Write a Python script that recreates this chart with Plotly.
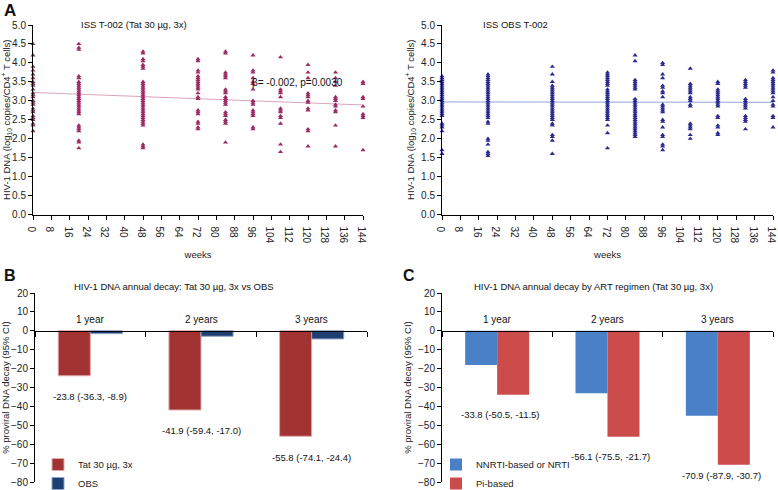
import plotly.graph_objects as go

FONT = "Liberation Sans, Arial, sans-serif"

# ---------------- Panel A data ----------------
weeks = [0, 20, 48, 72, 84, 96, 108, 120, 132, 144]

tat_values = [
    [4.5, 4.2, 3.9, 3.8, 3.7, 3.6, 3.5, 3.45, 3.4, 3.3, 3.2, 3.15, 3.1, 3.0, 2.95, 2.9, 2.8, 2.75, 2.7, 2.6, 2.55, 2.5, 2.4, 2.35, 2.2],
    [4.5, 4.4, 4.35, 3.65, 3.6, 3.5, 3.45, 3.4, 3.35, 3.3, 3.25, 3.2, 3.15, 3.1, 3.05, 3.0, 2.95, 2.9, 2.85, 2.8, 2.75, 2.7, 2.65, 2.35, 2.3, 2.25, 2.2, 1.95, 1.9, 1.75],
    [4.3, 4.25, 4.1, 4.05, 3.95, 3.9, 3.85, 3.5, 3.45, 3.4, 3.35, 3.3, 3.25, 3.2, 3.15, 3.1, 3.05, 3.0, 2.95, 2.9, 2.85, 2.8, 2.75, 2.7, 2.65, 2.6, 2.55, 2.5, 2.45, 2.4, 2.35, 1.85, 1.8, 1.75],
    [4.1, 4.05, 3.8, 3.75, 3.65, 3.6, 3.55, 3.5, 3.45, 3.4, 3.35, 3.3, 3.2, 3.1, 3.05, 2.75, 2.7, 2.65, 2.45, 2.4, 2.3, 2.25],
    [4.3, 4.25, 3.75, 3.7, 3.65, 3.6, 3.3, 3.25, 3.2, 3.1, 3.05, 3.0, 2.95, 2.9, 2.7, 2.65, 2.6, 2.5, 2.45, 2.4, 1.9],
    [4.2, 3.8, 3.75, 3.6, 3.5, 3.45, 3.3, 3.0, 2.95, 2.9, 2.75, 2.7, 2.65, 2.6, 2.3, 2.25],
    [4.15, 3.3, 3.25, 3.2, 3.1, 2.8, 2.75, 2.7, 2.6, 2.55, 2.4, 1.85, 1.65],
    [3.95, 3.75, 3.6, 3.2, 3.15, 3.1, 3.0, 2.95, 2.8, 2.75, 2.25, 2.2, 1.8],
    [3.75, 3.6, 3.5, 3.4, 3.1, 3.05, 3.0, 2.9, 2.85, 2.75, 2.7, 2.35, 1.8],
    [3.5, 3.45, 3.1, 3.05, 2.85, 2.65, 2.6, 2.55, 1.7],
]

obs_values = [
    [3.65, 3.6, 3.55, 3.5, 3.45, 3.4, 3.35, 3.3, 3.25, 3.2, 3.15, 3.1, 3.05, 3.0, 2.95, 2.9, 2.85, 2.8, 2.75, 2.7, 2.65, 2.6, 2.4, 2.35, 2.3, 2.2, 1.7, 1.6],
    [3.7, 3.65, 3.6, 3.55, 3.5, 3.45, 3.4, 3.35, 3.3, 3.25, 3.2, 3.15, 3.1, 3.05, 3.0, 2.95, 2.9, 2.85, 2.8, 2.75, 2.7, 2.65, 2.6, 2.55, 2.45, 2.4, 2.0, 1.95, 1.85, 1.65, 1.6, 1.55],
    [3.9, 3.7, 3.5, 3.4, 3.35, 3.3, 3.25, 3.2, 3.15, 3.1, 3.05, 3.0, 2.95, 2.9, 2.85, 2.8, 2.75, 2.7, 2.65, 2.6, 2.55, 2.5, 2.4, 2.35, 2.1, 2.05, 1.95, 1.6],
    [3.75, 3.7, 3.65, 3.6, 3.55, 3.5, 3.45, 3.4, 3.3, 3.25, 3.2, 3.15, 3.1, 3.05, 3.0, 2.95, 2.9, 2.85, 2.8, 2.75, 2.7, 2.65, 2.6, 2.55, 2.5, 2.35, 2.15, 1.75],
    [4.2, 4.05, 3.55, 3.5, 3.45, 3.4, 3.35, 3.3, 3.05, 3.0, 2.95, 2.9, 2.85, 2.8, 2.75, 2.7, 2.65, 2.6, 2.55, 2.5, 2.45, 2.4, 2.35, 2.3, 2.25, 2.2, 2.15, 2.1, 2.05],
    [4.0, 3.95, 3.7, 3.6, 3.4, 3.35, 3.25, 3.2, 3.1, 2.9, 2.85, 2.8, 2.75, 2.7, 2.5, 2.45, 2.3, 2.1, 2.05, 1.85, 1.8, 1.7],
    [3.85, 3.45, 3.4, 3.35, 3.3, 3.25, 3.2, 3.1, 3.05, 3.0, 2.9, 2.85, 2.4, 2.35, 2.3, 2.25, 2.1, 2.0],
    [3.5, 3.45, 3.3, 3.25, 3.2, 3.15, 3.1, 3.05, 3.0, 2.95, 2.9, 2.85, 2.6, 2.55, 2.35, 2.3, 2.15, 2.1],
    [3.55, 3.5, 3.45, 3.4, 3.35, 3.05, 3.0, 2.95, 2.9, 2.85, 2.8, 2.6, 2.55, 2.5, 2.45, 2.25],
    [3.8, 3.75, 3.6, 3.55, 3.5, 3.45, 3.4, 3.35, 3.3, 3.25, 3.2, 3.1, 3.0, 2.9, 2.85, 2.6, 2.55, 2.3],
]

fit_x = [0, 144]
tat_fit_y = [3.22, 2.89]
obs_fit_y = [2.97, 2.96]
tat_fit_label = "β= -0.002, p=0.0030"

week_ticks = list(range(0, 145, 8))
log_ticks = [0.0, 0.5, 1.0, 1.5, 2.0, 2.5, 3.0, 3.5, 4.0, 4.5, 5.0]

# ---------------- Panel B / C data ----------------
years = ["1 year", "2 years", "3 years"]
tat_decay = [-23.8, -41.9, -55.8]
obs_decay = [-1.5, -2.9, -4.3]
tat_decay_labels = ["-23.8 (-36.3, -8.9)", "-41.9 (-59.4, -17.0)", "-55.8 (-74.1, -24.4)"]

nnrti_decay = [-18.1, -33.1, -45.0]
pi_decay = [-33.8, -56.1, -70.9]
pi_decay_labels = ["-33.8 (-50.5, -11.5)", "-56.1 (-75.5, -21.7)", "-70.9 (-87.9, -30.7)"]

decay_ticks = [20, 10, 0, -10, -20, -30, -40, -50, -60, -70, -80]

# ---------------- helpers ----------------
W, H = 778, 490
def px(x):
    return x / W
def py(y):
    return 1 - y / H

TAT_C = "#9a2a62"
OBS_C = "#2b2b8e"

fig = go.Figure()

def flat(ws, vals):
    xs, ys = [], []
    for w, v in zip(ws, vals):
        xs += [w] * len(v)
        ys += v
    return xs, ys

tx, ty = flat(weeks, tat_values)
ox, oy = flat(weeks, obs_values)

fig.add_trace(go.Scatter(x=fit_x, y=tat_fit_y, mode="lines", xaxis="x", yaxis="y",
                         line=dict(color="#d9a3bd", width=1), showlegend=False))
fig.add_trace(go.Scatter(x=tx, y=ty, mode="markers", xaxis="x", yaxis="y",
                         marker=dict(symbol="triangle-up", size=4.5, color=TAT_C),
                         cliponaxis=False, showlegend=False))
fig.add_trace(go.Scatter(x=fit_x, y=obs_fit_y, mode="lines", xaxis="x2", yaxis="y2",
                         line=dict(color="#8ea6d8", width=1), showlegend=False))
fig.add_trace(go.Scatter(x=ox, y=oy, mode="markers", xaxis="x2", yaxis="y2",
                         marker=dict(symbol="triangle-up", size=4.5, color=OBS_C),
                         cliponaxis=False, showlegend=False))

# Panel B bars
fig.add_trace(go.Bar(x=years, y=tat_decay, name="Tat 30 µg, 3x", xaxis="x3", yaxis="y3",
                     marker=dict(color="#a23333", line=dict(color="#e3a9a9", width=1)),
                     legend="legend"))
fig.add_trace(go.Bar(x=years, y=obs_decay, name="OBS", xaxis="x3", yaxis="y3",
                     marker=dict(color="#1f3f72", line=dict(color="#8fa4c8", width=1)),
                     legend="legend"))
# Panel C bars
fig.add_trace(go.Bar(x=years, y=nnrti_decay, name="NNRTI-based or NRTI", xaxis="x4", yaxis="y4",
                     marker=dict(color="#4a80c8", line=dict(width=0)), legend="legend2"))
fig.add_trace(go.Bar(x=years, y=pi_decay, name="Pi-based", xaxis="x4", yaxis="y4",
                     marker=dict(color="#cc4b4b", line=dict(width=0)), legend="legend2"))

tickfont = dict(family=FONT, size=10, color="#222")
ax_common = dict(showline=True, linecolor="black", linewidth=1, ticks="outside",
                 ticklen=4, tickcolor="black", tickfont=tickfont, showgrid=False,
                 zeroline=False, automargin=False)

ya_dom = [py(214.5), py(25)]
xa1 = [px(33), px(363)]
xa2 = [px(442), px(773)]
yb_dom = [py(482), py(293)]
xb1 = [px(35), px(367)]
xb2 = [px(442), px(773)]
zero_pos = yb_dom[0] + 0.8 * (yb_dom[1] - yb_dom[0])

ytitle_a = "HIV-1 DNA (log<sub>10</sub> copies/CD4<sup>+</sup> T cells)"

layout = dict(
    width=W, height=H, margin=dict(l=0, r=0, t=0, b=0, autoexpand=False),
    plot_bgcolor="white", paper_bgcolor="white",
    font=dict(family=FONT, size=10, color="#222"),
    barmode="group", bargap=0.42, bargroupgap=0,
    xaxis=dict(domain=xa1, anchor="y", range=[0, 144], tickvals=week_ticks,
               title=dict(text="weeks", font=dict(size=9.5), standoff=8), **ax_common),
    yaxis=dict(domain=ya_dom, anchor="x", range=[0, 5], tickvals=log_ticks, tickformat=".1f",
               title=dict(text=ytitle_a, font=dict(size=9.5), standoff=4), **ax_common),
    xaxis2=dict(domain=xa2, anchor="y2", range=[0, 144], tickvals=week_ticks,
                title=dict(text="weeks", font=dict(size=9.5), standoff=8), **ax_common),
    yaxis2=dict(domain=ya_dom, anchor="x2", range=[0, 5], tickvals=log_ticks, tickformat=".1f",
                title=dict(text=ytitle_a, font=dict(size=9.5), standoff=4), **ax_common),
    xaxis3=dict(domain=xb1, anchor="free", position=zero_pos,
                range=[-0.5, 2.5], showline=True, linecolor="black", linewidth=1.2,
                ticks="outside", tickson="boundaries", ticklen=5, tickcolor="black",
                showticklabels=False, showgrid=False, zeroline=False, automargin=False),
    yaxis3=dict(domain=yb_dom, anchor="x3", range=[-80, 20], tickvals=decay_ticks,
                title=dict(text="% proviral DNA decay (95% CI)", font=dict(size=9.5), standoff=4),
                **ax_common),
    xaxis4=dict(domain=xb2, anchor="free", position=zero_pos,
                range=[-0.5, 2.5], showline=True, linecolor="black", linewidth=1.2,
                ticks="outside", tickson="boundaries", ticklen=5, tickcolor="black",
                showticklabels=False, showgrid=False, zeroline=False, automargin=False),
    yaxis4=dict(domain=yb_dom, anchor="x4", range=[-80, 20], tickvals=decay_ticks,
                title=dict(text="% proviral DNA decay (95% CI)", font=dict(size=9.5), standoff=4),
                **ax_common),
    legend=dict(x=px(38), y=py(450), xanchor="left", yanchor="top", bgcolor="rgba(0,0,0,0)",
                font=dict(size=9.5), tracegroupgap=0, itemwidth=30),
    legend2=dict(x=px(436), y=py(450), xanchor="left", yanchor="top", bgcolor="rgba(0,0,0,0)",
                 font=dict(size=9.5), tracegroupgap=0, itemwidth=30),
)
fig.update_layout(**layout)

ann = []
def A(text, x, y, xref="paper", yref="paper", size=9.5, bold=False, xanchor="center", **kw):
    d = dict(text=f"<b>{text}</b>" if bold else text, x=x, y=y, xref=xref, yref=yref,
             xanchor=xanchor, yanchor="middle",
             showarrow=False, font=dict(family=FONT, size=size, color="#111"))
    d.update(kw)
    ann.append(d)

# panel letters
A("A", px(2), py(10), size=17, bold=True, xanchor="left")
A("B", px(2), py(275), size=16, bold=True, xanchor="left")
A("C", px(401), py(275), size=16, bold=True, xanchor="left")
# panel titles
A("ISS T-002 (Tat 30 µg, 3x)", px(134), py(24))
A("ISS OBS T-002", px(515), py(24))
A("HIV-1 DNA annual decay: Tat 30 µg, 3x vs OBS", px(174), py(286))
A("HIV-1 DNA annual decay by ART regimen (Tat 30 µg, 3x)", px(593), py(286))
# regression annotation
A(tat_fit_label, 115.5, 3.47, xref="x", yref="y", size=10)
# category labels and value labels
for i, (yr, lab) in enumerate(zip(years, tat_decay_labels)):
    A(yr, i, 6, xref="x3", yref="y3", size=10)
    A(lab, i, tat_decay[i] - 11, xref="x3", yref="y3")
for i, (yr, lab) in enumerate(zip(years, pi_decay_labels)):
    A(yr, i, 6, xref="x4", yref="y4", size=10)
    yv = max(pi_decay[i] - 10.5, -76.5)
    A(lab, i + 0.03, yv, xref="x4", yref="y4")

fig.update_layout(annotations=ann)
fig.write_html("out.html", config={"displayModeBar": False},
               post_script="document.body.style.margin='0';")
